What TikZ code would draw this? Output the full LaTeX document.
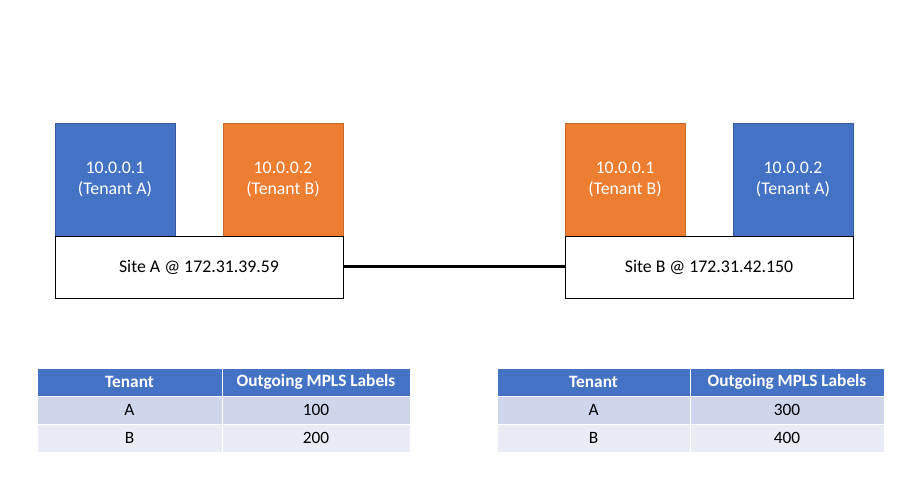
\documentclass[tikz,border=0pt]{standalone}
\usepackage{fontspec}
\setmainfont{Carlito}
\usepackage{tikz}
\usetikzlibrary{positioning}
\usepackage{xcolor}
\definecolor{tblue}{HTML}{4472C4}
\definecolor{torange}{HTML}{ED7D31}
\definecolor{rowone}{HTML}{CFD5EA}
\definecolor{rowtwo}{HTML}{E9EBF5}

\begin{document}
\begin{tikzpicture}[x=1pt, y=-1pt, node distance=48pt, inner sep=0pt, outer sep=0pt,
   tenant/.style={minimum width=120pt, minimum height=113pt, text=white, align=center, font=\fontsize{17.8}{21.5}\selectfont},
   tenanta/.style={tenant, fill=tblue, draw=tblue!80!black},
   tenantb/.style={tenant, fill=torange, draw=torange!85!black},
   site/.style={draw=black, fill=white, minimum width=288pt, minimum height=62pt, font=\fontsize{17.8}{21}\selectfont},
   cell/.style={draw=white, line width=1pt, minimum height=28pt, font=\fontsize{17.3}{19}\selectfont},
   hcell/.style={cell, fill=tblue, text=white, font=\fontsize{17.3}{19}\selectfont\bfseries},
   cella/.style={cell, fill=rowone},
   cellb/.style={cell, fill=rowtwo}]
   \useasboundingbox (0,0) rectangle (899,494);

   % Standort A
   \node[tenanta, anchor=north west] (a1) at (55,123) {10.0.0.1\\(Tenant A)};
   \node[tenantb] (a2) [right=of a1] {10.0.0.2\\(Tenant B)};
   \node[site, anchor=north west] (sitea) at (a1.south west) {Site A @ 172.31.39.59};

   % Standort B
   \node[tenantb, anchor=north west] (b1) at (565,123) {10.0.0.1\\(Tenant B)};
   \node[tenanta] (b2) [right=of b1] {10.0.0.2\\(Tenant A)};
   \node[site, anchor=north west] (siteb) at (b1.south west) {Site B @ 172.31.42.150};

   % Verbindung
   \draw[line width=3pt] (sitea.east) -- (siteb.east -| siteb.west);

   % Tabelle A
   \node[hcell, minimum width=185pt, anchor=north west] (ta11) at (37,368) {Tenant};
   \node[hcell, minimum width=188pt, anchor=north west] (ta12) at (ta11.north east) {Outgoing MPLS Labels};
   \node[cella, minimum width=185pt, anchor=north west] (ta21) at (ta11.south west) {A};
   \node[cella, minimum width=188pt, anchor=north west] (ta22) at (ta21.north east) {100};
   \node[cellb, minimum width=185pt, anchor=north west] (ta31) at (ta21.south west) {B};
   \node[cellb, minimum width=188pt, anchor=north west] (ta32) at (ta31.north east) {200};

   % Tabelle B
   \node[hcell, minimum width=193pt, anchor=north west] (tb11) at (497,368) {Tenant};
   \node[hcell, minimum width=194pt, anchor=north west] (tb12) at (tb11.north east) {Outgoing MPLS Labels};
   \node[cella, minimum width=193pt, anchor=north west] (tb21) at (tb11.south west) {A};
   \node[cella, minimum width=194pt, anchor=north west] (tb22) at (tb21.north east) {300};
   \node[cellb, minimum width=193pt, anchor=north west] (tb31) at (tb21.south west) {B};
   \node[cellb, minimum width=194pt, anchor=north west] (tb32) at (tb31.north east) {400};
\end{tikzpicture}
\end{document}
